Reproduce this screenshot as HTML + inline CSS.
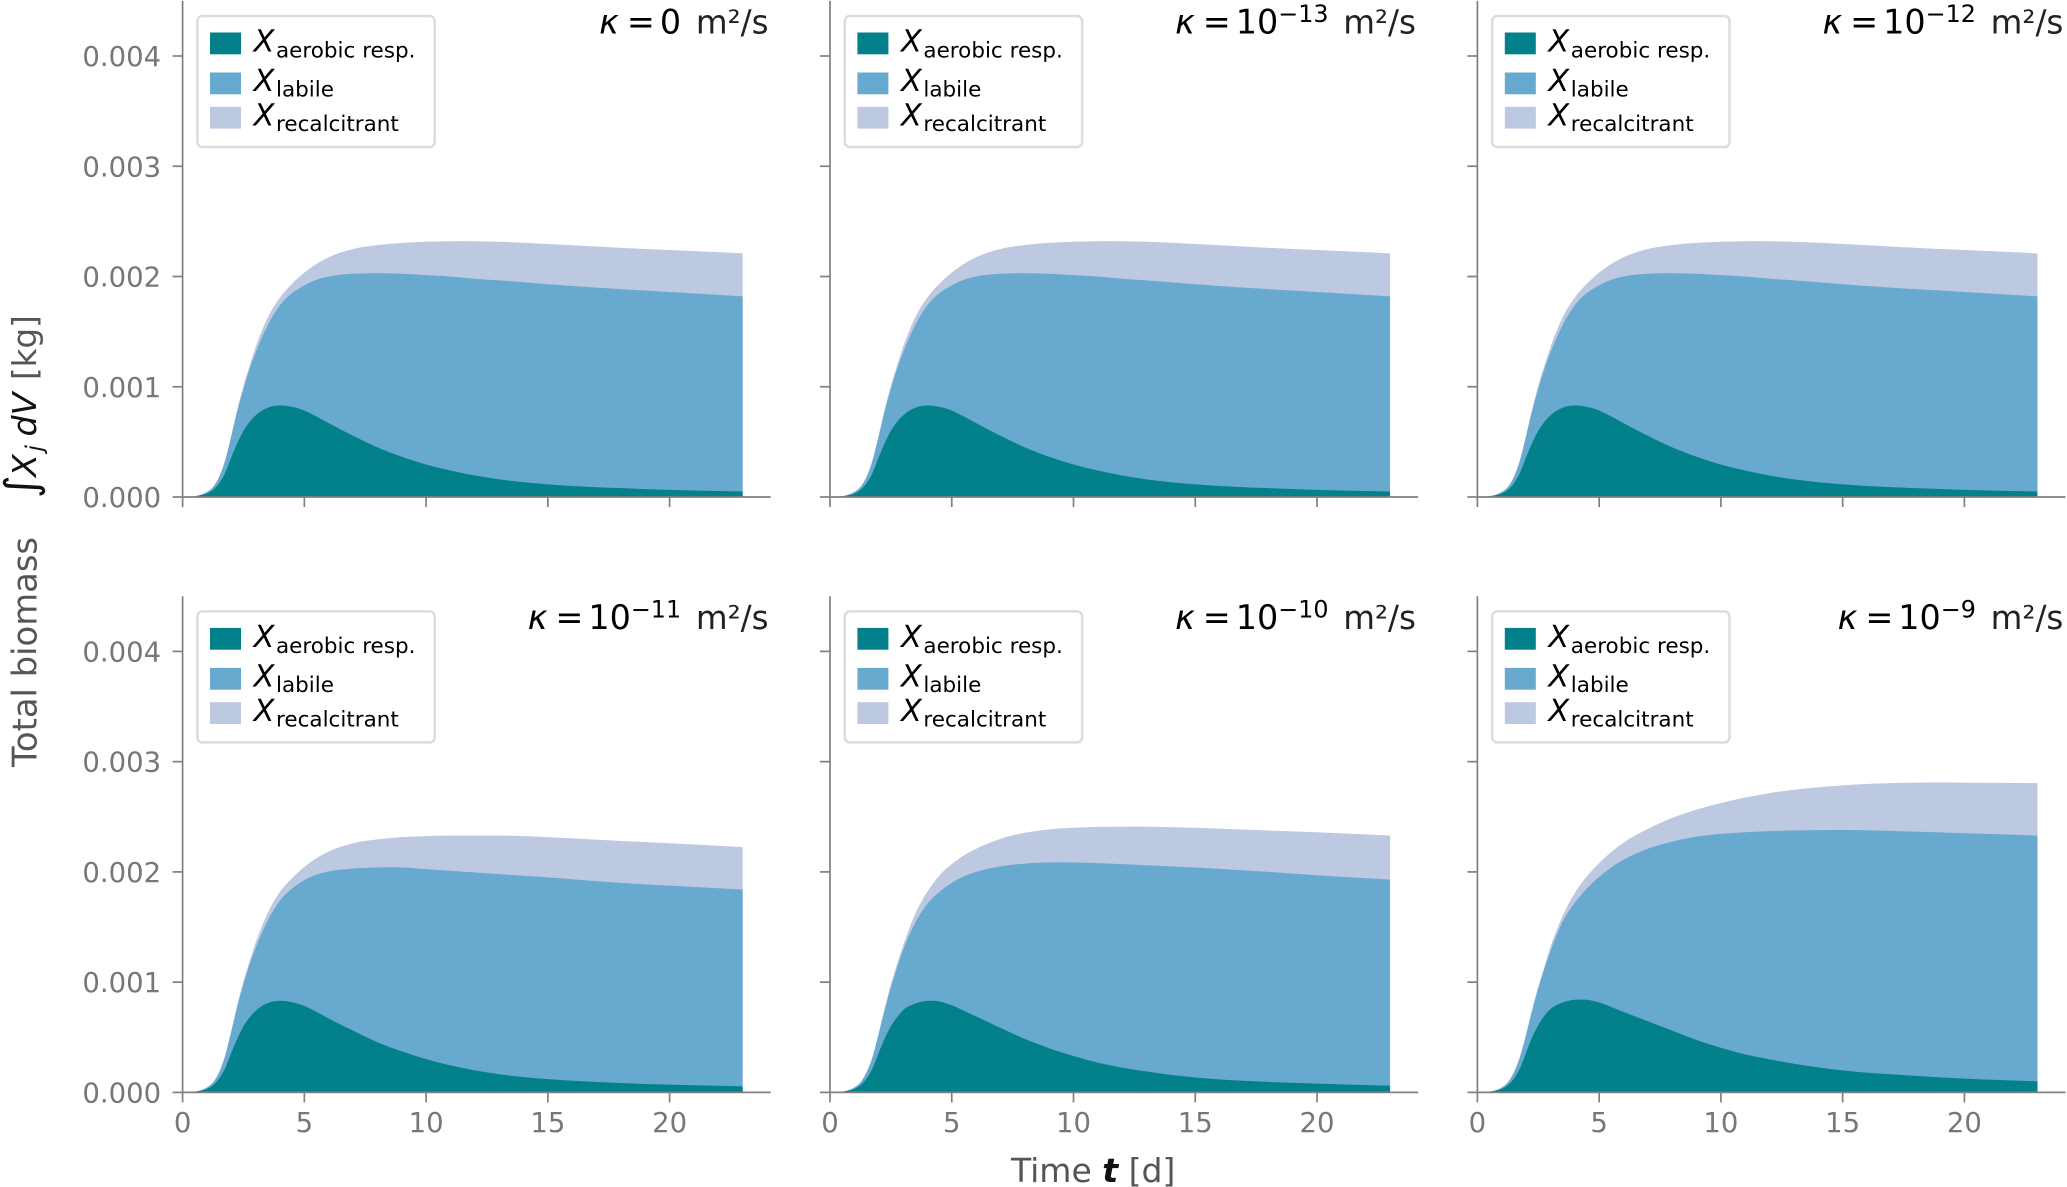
<!DOCTYPE html>
<html lang="en">
<head>
<meta charset="utf-8">
<title>Total biomass over time for six permeabilities</title>
<style>
  html, body { margin: 0; padding: 0; background: #fff; }
  svg { display: block; font-family: "DejaVu Sans", "Liberation Sans", sans-serif; }
  .tick-label { font-size: 27.5px; fill: #777; }
  .axis-title { font-size: 33.8px; fill: #555; }
  .x-title { font-size: 33px; fill: #555; }
  .axis-math { font-size: 33.3px; fill: #111; font-style: italic; }
  .legend-x { font-size: 30.4px; font-style: italic; fill: #000; }
  .legend-sub { font-size: 21.5px; fill: #000; }
  .title-math { font-size: 33.4px; fill: #000; }
  .title-sup { font-size: 23.8px; fill: #000; }
  .title-unit { font-size: 32.6px; fill: #222; }
</style>
</head>
<body>
<svg id="figure" xmlns="http://www.w3.org/2000/svg" width="2067" height="1187" viewBox="0 0 2067 1187">

  <g>
    <text class="axis-title" transform="translate(36.5,767) rotate(-90)">Total biomass</text>
    <text class="axis-math" style="font-style:normal;font-size:44px" transform="translate(36,498) rotate(-90)">∫</text>
    <text class="axis-math" transform="translate(36,477) rotate(-90)">X</text>
    <text class="axis-math" style="font-size:23px" transform="translate(42,451.5) rotate(-90)">j</text>
    <text class="axis-math" transform="translate(36,436.5) rotate(-90)">dV</text>
    <text class="axis-title" style="font-size:32.5px" transform="translate(36,380) rotate(-90)">[kg]</text>
  </g>

  <text x="1011" y="1182"><tspan class="x-title">Time </tspan><tspan class="axis-math" style="font-weight:bold">t</tspan><tspan class="x-title"> [d]</tspan></text>

  <!-- Panel 1 -->
  <g id="panel-0" transform="translate(182.6,497)">
    <g class="marks"></g>
    <g class="axes"></g>
    <g>
      <rect x="14.8" y="-481" width="237.3" height="131" rx="5" fill="#fff" stroke="#dcdcdc" stroke-width="2.5"/>
      <rect x="27.4" y="-464.5" width="31" height="21.8" fill="#02818a"/>
      <rect x="27.4" y="-424.5" width="31" height="21.8" fill="#67a9cf"/>
      <rect x="27.4" y="-390.2" width="31" height="21.8" fill="#bdc9e1"/>
      <text class="legend-x" x="71" y="-445.3">X</text><text class="legend-sub" x="93.4" y="-439.5">aerobic resp.</text>
      <text class="legend-x" x="71" y="-406">X</text><text class="legend-sub" x="93.4" y="-400.3">labile</text>
      <text class="legend-x" x="71" y="-371.3">X</text><text class="legend-sub" x="93.4" y="-366">recalcitrant</text>
    </g>
    <text x="498.5" y="-463.5" text-anchor="end"><tspan class="title-math" font-style="italic">κ</tspan><tspan class="title-math" dx="8">=</tspan><tspan class="title-math" dx="5">0</tspan></text>
    <text class="title-unit" x="586" y="-463.5" text-anchor="end">m²/s</text>
  </g>

  <!-- Panel 2 -->
  <g id="panel-1" transform="translate(830,497)">
    <g class="marks"></g>
    <g class="axes"></g>
    <g>
      <rect x="14.8" y="-481" width="237.3" height="131" rx="5" fill="#fff" stroke="#dcdcdc" stroke-width="2.5"/>
      <rect x="27.4" y="-464.5" width="31" height="21.8" fill="#02818a"/>
      <rect x="27.4" y="-424.5" width="31" height="21.8" fill="#67a9cf"/>
      <rect x="27.4" y="-390.2" width="31" height="21.8" fill="#bdc9e1"/>
      <text class="legend-x" x="71" y="-445.3">X</text><text class="legend-sub" x="93.4" y="-439.5">aerobic resp.</text>
      <text class="legend-x" x="71" y="-406">X</text><text class="legend-sub" x="93.4" y="-400.3">labile</text>
      <text class="legend-x" x="71" y="-371.3">X</text><text class="legend-sub" x="93.4" y="-366">recalcitrant</text>
    </g>
    <text x="498.5" y="-463.5" text-anchor="end"><tspan class="title-math" font-style="italic">κ</tspan><tspan class="title-math" dx="8">=</tspan><tspan class="title-math" dx="5">10</tspan><tspan class="title-sup" dy="-11.5">−13</tspan></text>
    <text class="title-unit" x="586" y="-463.5" text-anchor="end">m²/s</text>
  </g>

  <!-- Panel 3 -->
  <g id="panel-2" transform="translate(1477.4,497)">
    <g class="marks"></g>
    <g class="axes"></g>
    <g>
      <rect x="14.8" y="-481" width="237.3" height="131" rx="5" fill="#fff" stroke="#dcdcdc" stroke-width="2.5"/>
      <rect x="27.4" y="-464.5" width="31" height="21.8" fill="#02818a"/>
      <rect x="27.4" y="-424.5" width="31" height="21.8" fill="#67a9cf"/>
      <rect x="27.4" y="-390.2" width="31" height="21.8" fill="#bdc9e1"/>
      <text class="legend-x" x="71" y="-445.3">X</text><text class="legend-sub" x="93.4" y="-439.5">aerobic resp.</text>
      <text class="legend-x" x="71" y="-406">X</text><text class="legend-sub" x="93.4" y="-400.3">labile</text>
      <text class="legend-x" x="71" y="-371.3">X</text><text class="legend-sub" x="93.4" y="-366">recalcitrant</text>
    </g>
    <text x="498.5" y="-463.5" text-anchor="end"><tspan class="title-math" font-style="italic">κ</tspan><tspan class="title-math" dx="8">=</tspan><tspan class="title-math" dx="5">10</tspan><tspan class="title-sup" dy="-11.5">−12</tspan></text>
    <text class="title-unit" x="586" y="-463.5" text-anchor="end">m²/s</text>
  </g>

  <!-- Panel 4 -->
  <g id="panel-3" transform="translate(182.6,1092.4)">
    <g class="marks"></g>
    <g class="axes"></g>
    <g>
      <rect x="14.8" y="-481" width="237.3" height="131" rx="5" fill="#fff" stroke="#dcdcdc" stroke-width="2.5"/>
      <rect x="27.4" y="-464.5" width="31" height="21.8" fill="#02818a"/>
      <rect x="27.4" y="-424.5" width="31" height="21.8" fill="#67a9cf"/>
      <rect x="27.4" y="-390.2" width="31" height="21.8" fill="#bdc9e1"/>
      <text class="legend-x" x="71" y="-445.3">X</text><text class="legend-sub" x="93.4" y="-439.5">aerobic resp.</text>
      <text class="legend-x" x="71" y="-406">X</text><text class="legend-sub" x="93.4" y="-400.3">labile</text>
      <text class="legend-x" x="71" y="-371.3">X</text><text class="legend-sub" x="93.4" y="-366">recalcitrant</text>
    </g>
    <text x="498.5" y="-463.5" text-anchor="end"><tspan class="title-math" font-style="italic">κ</tspan><tspan class="title-math" dx="8">=</tspan><tspan class="title-math" dx="5">10</tspan><tspan class="title-sup" dy="-11.5">−11</tspan></text>
    <text class="title-unit" x="586" y="-463.5" text-anchor="end">m²/s</text>
  </g>

  <!-- Panel 5 -->
  <g id="panel-4" transform="translate(830,1092.4)">
    <g class="marks"></g>
    <g class="axes"></g>
    <g>
      <rect x="14.8" y="-481" width="237.3" height="131" rx="5" fill="#fff" stroke="#dcdcdc" stroke-width="2.5"/>
      <rect x="27.4" y="-464.5" width="31" height="21.8" fill="#02818a"/>
      <rect x="27.4" y="-424.5" width="31" height="21.8" fill="#67a9cf"/>
      <rect x="27.4" y="-390.2" width="31" height="21.8" fill="#bdc9e1"/>
      <text class="legend-x" x="71" y="-445.3">X</text><text class="legend-sub" x="93.4" y="-439.5">aerobic resp.</text>
      <text class="legend-x" x="71" y="-406">X</text><text class="legend-sub" x="93.4" y="-400.3">labile</text>
      <text class="legend-x" x="71" y="-371.3">X</text><text class="legend-sub" x="93.4" y="-366">recalcitrant</text>
    </g>
    <text x="498.5" y="-463.5" text-anchor="end"><tspan class="title-math" font-style="italic">κ</tspan><tspan class="title-math" dx="8">=</tspan><tspan class="title-math" dx="5">10</tspan><tspan class="title-sup" dy="-11.5">−10</tspan></text>
    <text class="title-unit" x="586" y="-463.5" text-anchor="end">m²/s</text>
  </g>

  <!-- Panel 6 -->
  <g id="panel-5" transform="translate(1477.4,1092.4)">
    <g class="marks"></g>
    <g class="axes"></g>
    <g>
      <rect x="14.8" y="-481" width="237.3" height="131" rx="5" fill="#fff" stroke="#dcdcdc" stroke-width="2.5"/>
      <rect x="27.4" y="-464.5" width="31" height="21.8" fill="#02818a"/>
      <rect x="27.4" y="-424.5" width="31" height="21.8" fill="#67a9cf"/>
      <rect x="27.4" y="-390.2" width="31" height="21.8" fill="#bdc9e1"/>
      <text class="legend-x" x="71" y="-445.3">X</text><text class="legend-sub" x="93.4" y="-439.5">aerobic resp.</text>
      <text class="legend-x" x="71" y="-406">X</text><text class="legend-sub" x="93.4" y="-400.3">labile</text>
      <text class="legend-x" x="71" y="-371.3">X</text><text class="legend-sub" x="93.4" y="-366">recalcitrant</text>
    </g>
    <text x="498.5" y="-463.5" text-anchor="end"><tspan class="title-math" font-style="italic">κ</tspan><tspan class="title-math" dx="8">=</tspan><tspan class="title-math" dx="5">10</tspan><tspan class="title-sup" dy="-11.5">−9</tspan></text>
    <text class="title-unit" x="586" y="-463.5" text-anchor="end">m²/s</text>
  </g>
</svg>

<script>
// Shared sample times (days)
const times = [0,0.25,0.5,0.75,1,1.25,1.5,1.75,2,2.25,2.5,2.75,3,3.5,4,4.5,5,5.5,6,7,8,9,10,11,12,13,15,18,20,23];

// Axis ticks; y values in units of 0.001 kg
const xTickValues = [0,5,10,15,20];
const xTickLabels = ["0","5","10","15","20"];
const yTickValues = [0,1,2,3,4];
const yTickLabels = ["0.000","0.001","0.002","0.003","0.004"];

// Stack boundaries per panel, in units of 0.001 kg
const aerobicK0 = [0,.001,.006,.016,.032,.065,.125,.22,.36,.49,.6,.68,.74,.81,.83,.818,.785,.73,.67,.555,.45,.365,.295,.24,.195,.16,.115,.08,.065,.05];
const labileK0 = [0,.002,.008,.02,.045,.09,.18,.33,.55,.78,.98,1.16,1.31,1.56,1.74,1.85,1.92,1.97,2,2.025,2.03,2.025,2.012,2,1.98,1.965,1.93,1.885,1.86,1.82];
const totalK0 = [0,.002,.008,.02,.046,.092,.185,.34,.56,.8,1.01,1.19,1.36,1.63,1.81,1.935,2.035,2.115,2.175,2.25,2.285,2.305,2.315,2.32,2.32,2.315,2.295,2.26,2.24,2.21];

const aerobicK13 = [0,.001,.006,.016,.032,.065,.125,.22,.36,.49,.6,.68,.74,.81,.83,.818,.785,.73,.67,.555,.45,.365,.295,.24,.195,.16,.115,.08,.065,.05];
const labileK13 = [0,.002,.008,.02,.045,.09,.18,.33,.55,.78,.98,1.16,1.31,1.56,1.74,1.85,1.92,1.97,2,2.025,2.03,2.025,2.012,2,1.98,1.965,1.93,1.885,1.86,1.82];
const totalK13 = [0,.002,.008,.02,.046,.092,.185,.34,.56,.8,1.01,1.19,1.36,1.63,1.81,1.935,2.035,2.115,2.175,2.25,2.285,2.305,2.315,2.32,2.32,2.315,2.295,2.26,2.24,2.21];

const aerobicK12 = [0,.001,.006,.016,.032,.065,.125,.22,.36,.49,.6,.68,.74,.81,.83,.818,.785,.73,.67,.555,.45,.365,.295,.24,.195,.16,.115,.08,.065,.05];
const labileK12 = [0,.002,.008,.02,.045,.09,.18,.33,.55,.78,.98,1.16,1.31,1.56,1.74,1.85,1.92,1.97,2,2.025,2.03,2.025,2.012,2,1.98,1.965,1.93,1.885,1.86,1.82];
const totalK12 = [0,.002,.008,.02,.046,.092,.185,.34,.56,.8,1.01,1.19,1.36,1.63,1.81,1.935,2.035,2.115,2.175,2.25,2.285,2.305,2.315,2.32,2.32,2.315,2.295,2.26,2.24,2.21];

const aerobicK11 = [0,.001,.006,.016,.032,.065,.125,.22,.36,.49,.6,.68,.74,.81,.83,.818,.785,.73,.67,.56,.455,.372,.302,.245,.2,.165,.12,.085,.07,.055];
const labileK11 = [0,.002,.008,.02,.045,.09,.18,.33,.55,.78,.98,1.16,1.31,1.56,1.74,1.85,1.925,1.975,2.005,2.03,2.04,2.04,2.025,2.01,1.995,1.98,1.95,1.9,1.875,1.84];
const totalK11 = [0,.002,.008,.02,.046,.092,.185,.34,.56,.8,1.01,1.19,1.36,1.63,1.82,1.945,2.045,2.125,2.185,2.26,2.295,2.315,2.325,2.33,2.33,2.33,2.315,2.28,2.26,2.225];

const aerobicK10 = [0,.001,.006,.016,.032,.065,.125,.22,.36,.49,.6,.68,.745,.805,.83,.825,.79,.74,.69,.585,.485,.4,.33,.27,.225,.19,.135,.095,.08,.06];
const labileK10 = [0,.002,.008,.02,.045,.09,.18,.32,.53,.75,.95,1.13,1.29,1.54,1.71,1.82,1.9,1.96,2,2.05,2.075,2.085,2.085,2.08,2.07,2.06,2.04,2,1.97,1.93];
const totalK10 = [0,.002,.008,.02,.046,.092,.185,.33,.54,.77,.98,1.16,1.33,1.62,1.82,1.97,2.07,2.15,2.21,2.3,2.355,2.385,2.4,2.408,2.41,2.41,2.4,2.375,2.36,2.33];

const aerobicK9 = [0,.001,.006,.016,.032,.065,.125,.22,.36,.5,.61,.695,.755,.815,.84,.84,.815,.775,.73,.645,.56,.475,.405,.345,.3,.26,.2,.15,.125,.1];
const labileK9 = [0,.002,.008,.02,.045,.09,.18,.32,.52,.74,.94,1.12,1.28,1.55,1.72,1.85,1.955,2.04,2.11,2.21,2.275,2.32,2.345,2.36,2.37,2.375,2.38,2.365,2.35,2.33];
const totalK9 = [0,.002,.008,.02,.046,.092,.185,.33,.53,.76,.96,1.14,1.32,1.6,1.81,1.96,2.08,2.18,2.265,2.39,2.49,2.565,2.625,2.675,2.715,2.745,2.785,2.81,2.81,2.805];

const panelSeries = [
  [aerobicK0, labileK0, totalK0],
  [aerobicK13, labileK13, totalK13],
  [aerobicK12, labileK12, totalK12],
  [aerobicK11, labileK11, totalK11],
  [aerobicK10, labileK10, totalK10],
  [aerobicK9, labileK9, totalK9]
];

// Axis functions (panel-local pixels; origin at x=0, y=0)
const X_PX_PER_DAY = 24.35;
const Y_PX_PER_UNIT = 110.25;
const xMax = 24.15;
const yMax = 4.5;
function xScale(t) { return t * X_PX_PER_DAY; }
function yScale(v) { return -v * Y_PX_PER_UNIT; }

const NS = 'http://www.w3.org/2000/svg';
const AXIS_COLOR = '#808080';

// Smooth cubic path through the given points (drawing only)
function smoothPath(xs, ys) {
  const n = xs.length, d = [], m = [];
  for (let i = 0; i < n - 1; i++) d.push((ys[i + 1] - ys[i]) / (xs[i + 1] - xs[i]));
  m[0] = d[0];
  m[n - 1] = d[n - 2];
  for (let i = 1; i < n - 1; i++) {
    const h0 = xs[i] - xs[i - 1], h1 = xs[i + 1] - xs[i];
    m[i] = (h1 * d[i - 1] + h0 * d[i]) / (h0 + h1);
  }
  let p = 'M' + xs[0].toFixed(2) + ' ' + ys[0].toFixed(2);
  for (let i = 0; i < n - 1; i++) {
    const h = (xs[i + 1] - xs[i]) / 3;
    p += 'C' + (xs[i] + h).toFixed(2) + ' ' + (ys[i] + m[i] * h).toFixed(2) + ' '
      + (xs[i + 1] - h).toFixed(2) + ' ' + (ys[i + 1] - m[i + 1] * h).toFixed(2) + ' '
      + xs[i + 1].toFixed(2) + ' ' + ys[i + 1].toFixed(2);
  }
  return p;
}

function areaPath(values) {
  const xs = times.map(xScale);
  const ys = values.map(yScale);
  const last = xs[xs.length - 1];
  return smoothPath(xs, ys) + 'L' + last.toFixed(2) + ' ' + yScale(0) + 'L' + xs[0] + ' ' + yScale(0) + 'Z';
}

function axisLine(parent, x1, y1, x2, y2, w) {
  const el = document.createElementNS(NS, 'line');
  el.setAttribute('x1', x1);
  el.setAttribute('y1', y1);
  el.setAttribute('x2', x2);
  el.setAttribute('y2', y2);
  el.setAttribute('stroke', AXIS_COLOR);
  el.setAttribute('stroke-width', w);
  parent.appendChild(el);
  return el;
}

panelSeries.forEach(function (series, idx) {
  const panel = document.getElementById('panel-' + idx);
  const marks = panel.querySelector('.marks');
  const axes = panel.querySelector('.axes');

  const total = document.createElementNS(NS, 'path');
  
  
  total.setAttribute('d', areaPath(series[2]));
  total.setAttribute('fill', '#bdc9e1');
  marks.appendChild(total);

  const labile = document.createElementNS(NS, 'path');
  
  
  labile.setAttribute('d', areaPath(series[1]));
  labile.setAttribute('fill', '#67a9cf');
  marks.appendChild(labile);

  const aerobic = document.createElementNS(NS, 'path');
  
  
  aerobic.setAttribute('d', areaPath(series[0]));
  aerobic.setAttribute('fill', '#02818a');
  marks.appendChild(aerobic);

  const ySpine = axisLine(axes, 0, yScale(yMax), 0, 0, 1.7);
  
  

  const xSpine = axisLine(axes, 0, 0, xScale(xMax), 0, 1.7);
  
  

  xTickValues.forEach(function (v, i) {
    const tick = axisLine(axes, xScale(v), 0, xScale(v), 10, 1.7);
    
    
    if (idx >= 3) {
      const label = document.createElementNS(NS, 'text');
      
      
      label.setAttribute('class', 'tick-label');
      label.setAttribute('x', xScale(v));
      label.setAttribute('y', 39.5);
      label.setAttribute('text-anchor', 'middle');
      label.textContent = xTickLabels[i];
      axes.appendChild(label);
    }
  });

  yTickValues.forEach(function (v, i) {
    const tick = axisLine(axes, -10, yScale(v), 0, yScale(v), 1.7);
    
    
    if (idx % 3 === 0) {
      const label = document.createElementNS(NS, 'text');
      
      
      label.setAttribute('class', 'tick-label');
      label.setAttribute('x', -21.5);
      label.setAttribute('y', yScale(v) + 10);
      label.setAttribute('text-anchor', 'end');
      label.textContent = yTickLabels[i];
      axes.appendChild(label);
    }
  });
});
</script>
</body>
</html>
